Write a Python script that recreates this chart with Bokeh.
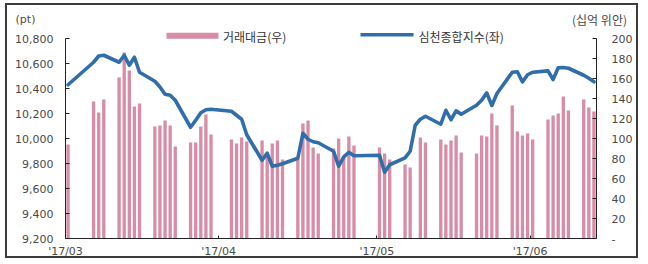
import pandas as pd
from bokeh.plotting import figure
from bokeh.models import (Range1d, LinearAxis, FixedTicker, NumeralTickFormatter,
                          ColumnDataSource)
from bokeh.core.properties import value
from bokeh.embed import file_html
from bokeh.resources import INLINE

# ---------------- data ----------------
trade_dates = [
    "2017-03-31",
    "2017-04-05", "2017-04-06", "2017-04-07",
    "2017-04-10", "2017-04-11", "2017-04-12", "2017-04-13", "2017-04-14",
    "2017-04-17", "2017-04-18", "2017-04-19", "2017-04-20", "2017-04-21",
    "2017-04-24", "2017-04-25", "2017-04-26", "2017-04-27", "2017-04-28",
    "2017-05-02", "2017-05-03", "2017-05-04", "2017-05-05",
    "2017-05-08", "2017-05-09", "2017-05-10", "2017-05-11", "2017-05-12",
    "2017-05-15", "2017-05-16", "2017-05-17", "2017-05-18", "2017-05-19",
    "2017-05-22", "2017-05-23", "2017-05-24", "2017-05-25", "2017-05-26",
    "2017-05-31", "2017-06-01", "2017-06-02",
    "2017-06-05", "2017-06-06", "2017-06-07", "2017-06-08", "2017-06-09",
    "2017-06-12", "2017-06-13", "2017-06-14", "2017-06-15", "2017-06-16",
    "2017-06-19", "2017-06-20", "2017-06-21", "2017-06-22", "2017-06-23",
    "2017-06-26", "2017-06-27", "2017-06-28", "2017-06-29", "2017-06-30",
    "2017-07-03", "2017-07-04", "2017-07-05", "2017-07-06", "2017-07-07",
    "2017-07-10", "2017-07-11", "2017-07-12",
]

# 심천종합지수 (left axis, pt)
index_values = [
    10430,
    10610, 10660, 10666,
    10610, 10666, 10586, 10650, 10530,
    10458, 10412, 10354, 10346, 10306,
    10090, 10146, 10206, 10230, 10234,
    10218, 10186, 10154, 10030,
    9826, 9882, 9778, 9786, 9798,
    9842, 10042, 9994, 9974, 9966,
    9898, 9778, 9853, 9890, 9862,
    9866, 9730, 9790,
    9845, 9898, 10106, 10154, 10178,
    10114, 10226, 10150, 10221, 10194,
    10266, 10306, 10365, 10264, 10360,
    10530, 10534, 10453, 10510, 10530,
    10541, 10472, 10566, 10568, 10562,
    10506, 10482, 10454,
]

# 거래대금 (right axis, 십억 위안); None = no bar shown
turnover_values = [
    94,
    137, 126, 139,
    161, 186, 168, 132, 135,
    112, 113, 118, 113, 92,
    96, 96, 112, 124, 104,
    99, 95, 101, 97,
    98, 82, 95, 98, 79,
    80, 115, 118, 91, 85,
    90, 100, 82, 102, 93,
    91, 85, 79,
    74, 71, None, 101, 96,
    99, 94, 98, 103, 86,
    85, 103, 102, 125, 113,
    133, 107, 103, 105, 99,
    119, 123, 125, 142, 128,
    139, 131, 127,
]

x_tick_dates = ["2017-03-31", "2017-04-30", "2017-05-31", "2017-06-30"]
x_tick_labels = ["'17/03", "'17/04", "'17/05", "'17/06"]
left_ticks = [9200, 9400, 9600, 9800, 10000, 10200, 10400, 10600, 10800]
right_ticks = [0, 20, 40, 60, 80, 100, 120, 140, 160, 180, 200]

series_names = ["거래대금(우)", "심천종합지수(좌)"]
unit_texts = ["(pt)", "(십억 위안)"]

# ---------------- layout constants (page pixels) ----------------
CANVAS_X, CANVAS_Y = 7, 5          # canvas top-left on the page (inside a 2px border)
W, H = 633, 255
PLOT_L, PLOT_R, PLOT_B = 65, 596, 238   # axes positions on the page
L_PX_PER_UNIT = 200 / 1600              # left axis: 9,200..10,800 over 200 px
R_PX_PER_UNIT = 200 / 200               # right axis: 0..200 over 200 px

BAR_COLOR = "#D68DA5"
LINE_COLOR = "#2F6EAB"
TEXT_COLOR = "#4a4a4a"
AXIS_COLOR = "#222222"
NUM_FONT = "DejaVu Sans"
KR_FONT = "Noto Sans CJK KR"

# ---------------- scales ----------------
dates = pd.to_datetime(trade_dates)
half_day = pd.Timedelta(hours=12)
x_start = dates[0] - half_day
x_end = dates[-1] + half_day
per_px = (x_end - x_start) / (PLOT_R - PLOT_L)


def xpx(px):
    return x_start + (px - PLOT_L) * per_px


def ypx(py):
    return left_ticks[0] + (PLOT_B - py) / L_PX_PER_UNIT


def ms(ts):
    return ts.value / 1e6


line_src = ColumnDataSource(dict(date=dates, idx=index_values))
bar_rows = [(d, v) for d, v in zip(dates, turnover_values) if v is not None]
bar_src = ColumnDataSource(dict(date=[r[0] for r in bar_rows], amt=[r[1] for r in bar_rows]))

tick_ms = [int((pd.Timestamp(d) - half_day).value // 10**6) for d in x_tick_dates]

p = figure(width=W, height=H, x_axis_type="datetime",
           x_range=Range1d(start=xpx(CANVAS_X), end=xpx(CANVAS_X + W)),
           y_range=Range1d(ypx(CANVAS_Y + H), ypx(CANVAS_Y)),
           output_backend="svg", toolbar_location=None,
           min_border_left=0, min_border_right=0, min_border_top=0, min_border_bottom=0)
p.extra_y_ranges = {"amt": Range1d(right_ticks[0] - (CANVAS_Y + H - PLOT_B) / R_PX_PER_UNIT,
                                   right_ticks[0] + (PLOT_B - CANVAS_Y) / R_PX_PER_UNIT)}
p.background_fill_color = "white"
p.border_fill_color = "white"
p.outline_line_color = None
p.grid.visible = False
p.styles = {"margin-left": "5px", "margin-top": "3px", "border": "2px solid #3c3c3c"}

bars = p.vbar(x="date", top="amt", bottom=0, width=0.65 * 86400000, source=bar_src,
              y_range_name="amt", fill_color=BAR_COLOR, line_color=None)
line = p.line(x="date", y="idx", source=line_src, line_color=LINE_COLOR,
              line_width=3.6, line_join="round", line_cap="round")

# x axis (fixed at the bottom of the value range)
xa = p.xaxis[0]
xa.ticker = FixedTicker(ticks=tick_ms)
xa.major_label_overrides = {t: lab for t, lab in zip(tick_ms, x_tick_labels)}
xa.fixed_location = left_ticks[0]
xa.bounds = (ms(x_start), ms(x_end))

# left axis
ya = p.yaxis[0]
ya.ticker = FixedTicker(ticks=left_ticks)
ya.formatter = NumeralTickFormatter(format="0,0")
ya.fixed_location = ms(x_start)
ya.bounds = (left_ticks[0], left_ticks[-1])

# right axis
ra = LinearAxis(y_range_name="amt", ticker=FixedTicker(ticks=right_ticks),
                bounds=(right_ticks[0], right_ticks[-1]), fixed_location=ms(x_end))
ra.major_label_overrides = {0: "-"}
p.add_layout(ra, "right")

for ax in [xa, ya, ra]:
    ax.axis_line_color = AXIS_COLOR
    ax.axis_line_width = 1
    ax.major_tick_line_color = AXIS_COLOR
    ax.major_tick_in = 4
    ax.major_tick_out = 0
    ax.minor_tick_line_color = None
    ax.major_label_text_font = NUM_FONT
    ax.major_label_text_font_size = "11px"
    ax.major_label_text_color = TEXT_COLOR
xa.major_tick_in = 3
xa.major_label_standoff = 6
ya.major_label_standoff = 12
ra.major_label_standoff = 15

# legend
p.quad(left=[xpx(166)], right=[xpx(218)], top=[ypx(32.3)], bottom=[ypx(38.3)],
       fill_color=BAR_COLOR, line_color=None)
p.segment(x0=[xpx(360)], x1=[xpx(413)], y0=[ypx(34.3)], y1=[ypx(34.3)],
          line_color=LINE_COLOR, line_width=3.6)
p.text(x=[xpx(222.5), xpx(418)], y=[ypx(36), ypx(36)], text=series_names,
       text_font=value(KR_FONT), text_font_size="12px", text_color="#333333",
       text_align="left", text_baseline="middle")

# unit labels above the axes
p.text(x=[xpx(25)], y=[ypx(19)], text=unit_texts[:1], text_font=value(NUM_FONT),
       text_font_size="11px", text_color=TEXT_COLOR, text_align="center", text_baseline="middle")
p.text(x=[xpx(599)], y=[ypx(19)], text=unit_texts[1:], text_font=value(KR_FONT),
       text_font_size="12px", text_color=TEXT_COLOR, text_align="center", text_baseline="middle")

open("out.html", "w").write(file_html(p, INLINE))
